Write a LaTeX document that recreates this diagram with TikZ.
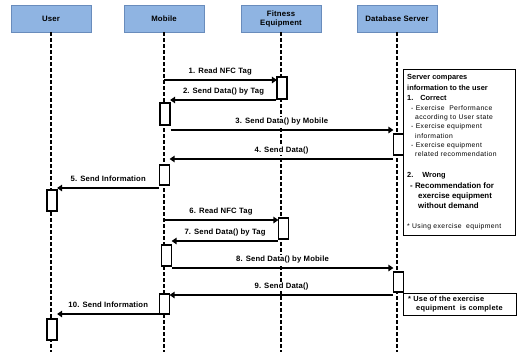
\documentclass[tikz,border=0pt]{standalone}
\usepackage{fontspec}
\setmainfont{Liberation Sans}
\newfontfamily\widefont[LetterSpace=6]{Liberation Sans}
\newfontfamily\widebold[LetterSpace=3]{Liberation Sans Bold}
\newfontfamily\lblfont[LetterSpace=2]{Liberation Sans Bold}
\usetikzlibrary{arrows.meta,shadows}
\definecolor{headfill}{RGB}{143,180,226}
\definecolor{headline}{RGB}{105,140,188}
\begin{document}
\begin{tikzpicture}[x=1pt,y=-1pt,
  head/.style={draw=headline, line width=0.8pt, fill=headfill, minimum width=80pt, minimum height=27pt,
    inner sep=1pt, align=center, font=\fontsize{7.8}{9}\lblfont,
    drop shadow={shadow xshift=1.2pt, shadow yshift=-1.2pt, fill=black, opacity=0.3}},
  life/.style={line width=1.5pt, dash pattern=on 4pt off 2pt},
  act/.style={draw=black, line width=1.2pt, fill=white, minimum width=10pt, inner sep=0pt},
  msg/.style={line width=2.4pt, -{Triangle[length=5pt,width=6.5pt]}, shorten >=-0.5pt},
  lbl/.style={font=\fontsize{7.7}{9}\lblfont, anchor=base, yshift=6.5pt, inner sep=0.6pt, fill=white},
  notebox/.style={draw=black, line width=1.2pt, fill=white, anchor=north west, inner sep=0pt},
  nb/.style={anchor=west, inner sep=0pt, font=\fontsize{7.4}{8}\selectfont\bfseries},
  ns/.style={anchor=west, inner sep=0pt, font=\fontsize{6.8}{7}\widefont},
  nm/.style={anchor=west, inner sep=0pt, font=\fontsize{7.9}{9}\selectfont\bfseries},
  nt/.style={anchor=west, inner sep=0pt, font=\fontsize{7.4}{8}\widebold}
]
\useasboundingbox (0,0) rectangle (520,357);
% headers
\node[head] (hU) at (51,18.5) {User};
\node[head] (hM) at (164,18.5) {Mobile};
\node[head] (hF) at (281,18.5) {Fitness\\Equipment};
\node[head] (hD) at (397,18.5) {Database Server};
% lifeline ends
\coordinate (eU) at (51,352);
\coordinate (eM) at (164,352);
\coordinate (eF) at (281,352);
\coordinate (eD) at (397,352);
\draw[life] (hU.south) -- (eU);
\draw[life] (hM.south) -- (eM);
\draw[life] (hF.south) -- (eF);
\draw[life] (hD.south) -- (eD);
% activation boxes
\node[act, minimum height=22pt] (f1) at (282,88) {};
\node[act, minimum height=22pt] (m1) at (165,114) {};
\node[act, minimum height=21pt] (d1) at (398.5,144.5) {};
\node[act, minimum height=20pt] (m2) at (164.5,175) {};
\node[act, minimum height=21pt] (u1) at (52,200.5) {};
\node[act, minimum height=21pt] (f2) at (283.5,228.5) {};
\node[act, minimum height=21pt] (m3) at (166.5,255.5) {};
\node[act, minimum height=20pt] (d2) at (398.5,282) {};
\node[act, minimum height=20pt] (m4) at (164.5,304) {};
\node[act, minimum height=21pt] (u2) at (52,329.5) {};
% message levels
\coordinate (y1) at (164,80);
\coordinate (y2) at (0,100);
\coordinate (y3) at (0,130);
\coordinate (y4) at (0,159);
\coordinate (y5) at (0,188);
\coordinate (y6) at (164,220);
\coordinate (y7) at (0,241);
\coordinate (y8) at (0,268);
\coordinate (y9) at (0,295);
\coordinate (y10) at (0,314);
% messages
\draw[msg] (y1) -- node[lbl] {1. Read NFC Tag} (y1 -| f1.west);
\draw[msg] (f1.west |- y2) -- node[lbl] {2. Send Data() by Tag} (m1.east |- y2);
\draw[msg] (m1.east |- y3) -- node[lbl] {3. Send Data() by Mobile} (d1.west |- y3);
\draw[msg] (d1.west |- y4) -- node[lbl] {4. Send Data()} (m2.east |- y4);
\draw[msg] (m2.west |- y5) -- node[lbl] {5. Send Information} (u1.east |- y5);
\draw[msg] (y6) -- node[lbl] {6. Read NFC Tag} (y6 -| f2.west);
\draw[msg] (f2.west |- y7) -- node[lbl] {7. Send Data() by Tag} (m3.east |- y7);
\draw[msg] (m3.east |- y8) -- node[lbl] {8. Send Data() by Mobile} (d2.west |- y8);
\draw[msg] (d2.west |- y9) -- node[lbl] {9. Send Data()} (m4.east |- y9);
\draw[msg] (m4.west |- y10) -- node[lbl] {10. Send Information} (u2.east |- y10);
% big note
\node[notebox, minimum width=112pt, minimum height=166pt] (n1) at (403,69) {};
\node[nb] (n1a) at (407,78) {Server compares};
\node[nb] (n1b) at (407,88) {information to the user};
\node[nb] (n1c) at (407,98) {1.\hspace{7pt}Correct};
\node[ns] (n1d) at (411,108.5) {- Exercise\ \ Performance};
\node[ns] (n1e) at (415,117.5) {according to User state};
\node[ns] (n1f) at (411,127) {- Exercise equipment};
\node[ns] (n1g) at (415,136) {information};
\node[ns] (n1h) at (411,145.5) {- Exercise equipment};
\node[ns] (n1i) at (415,154.5) {related recommendation};
\node[nb] (n1j) at (407,176) {2.\hspace{9pt}Wrong};
\node[nm] (n1k) at (410,186) {- Recommendation for};
\node[nm] (n1l) at (418,196) {exercise equipment};
\node[nm] (n1m) at (418,206) {without demand};
\node[ns] (n1n) at (407,227) {* Using exercise\ \ equipment};
% small note
\node[notebox, minimum width=113pt, minimum height=22pt] (n2) at (403,293) {};
\node[nt] (n2a) at (408,299) {* Use of the exercise};
\node[nt] (n2b) at (416,309) {equipment\ \ is complete};
\end{tikzpicture}
\end{document}
